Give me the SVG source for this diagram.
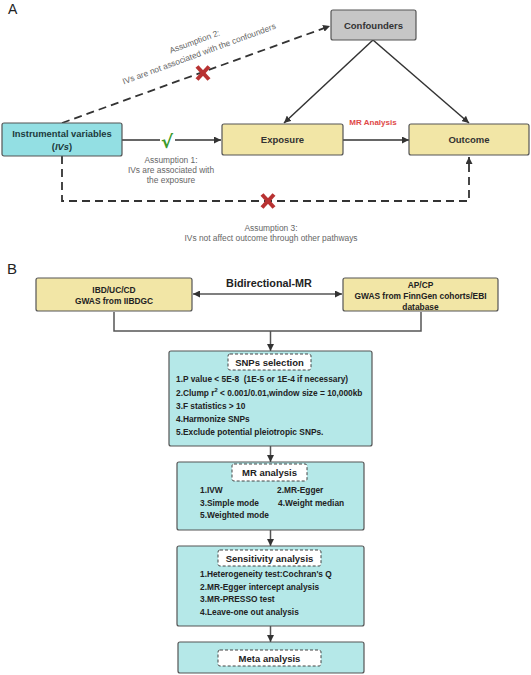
<svg xmlns="http://www.w3.org/2000/svg" width="531" height="675" viewBox="0 0 531 675">
<style>
.box{stroke:#555;stroke-width:1.2}
.teal{fill:#b5e8e8}
.ivf{fill:#93dfe3}
.yel{fill:#f2e6a6}
.gray{fill:#c6c6c6}
.lbl{fill:#fff;stroke:#444;stroke-width:1;stroke-dasharray:3 2}
.t{font-family:"Liberation Sans",Arial,sans-serif;fill:#222}
.b{font-weight:bold}
.s{font-size:8.35px}
.g{font-family:"Liberation Sans",Arial,sans-serif;fill:#666;font-size:8.4px}
.ln{stroke:#333;stroke-width:1.5;fill:none}
.ln2{stroke:#555;stroke-width:1.5;fill:none}
.dash{stroke:#333;stroke-width:1.8;fill:none;stroke-dasharray:8 5}
.x{stroke:#b83232;stroke-width:4;stroke-linecap:butt}
</style>
<defs>
<marker id="ah" viewBox="0 0 10 10" refX="10" refY="5" markerWidth="7" markerHeight="7" markerUnits="userSpaceOnUse" orient="auto-start-reverse">
<path d="M0,0 L10,5 L0,10 z" fill="#333"/>
</marker>
</defs>
<rect width="531" height="675" fill="#fff"/>
<text x="8" y="13.5" class="t" font-size="14" fill="#333">A</text>
<text x="7" y="274" class="t" font-size="15" fill="#333">B</text>

<g id="connectors">
<line class="ln" x1="122" y1="140" x2="160" y2="140"/>
<line class="ln" x1="175" y1="140" x2="221" y2="140" marker-end="url(#ah)"/>
<line class="ln" x1="343" y1="140" x2="409" y2="140" marker-end="url(#ah)"/>
<line class="ln" x1="373" y1="40" x2="284" y2="123" marker-end="url(#ah)"/>
<line class="ln" x1="373" y1="40" x2="469" y2="123" marker-end="url(#ah)"/>
<line class="dash" x1="62" y1="123" x2="330" y2="26" marker-end="url(#ah)"/>
<polyline class="dash" points="62,156 62,201 469,201 469,157" marker-end="url(#ah)"/>
<line class="ln2" x1="193" y1="294" x2="342" y2="294" marker-start="url(#ah)" marker-end="url(#ah)"/>
<polyline class="ln2" points="114,312 114,331 421,331 421,312"/>
<line class="ln2" x1="270.5" y1="331" x2="270.5" y2="351" marker-end="url(#ah)"/>
<line class="ln2" x1="270.5" y1="446" x2="270.5" y2="462" marker-end="url(#ah)"/>
<line class="ln2" x1="270.5" y1="530" x2="270.5" y2="546" marker-end="url(#ah)"/>
<line class="ln2" x1="270.5" y1="626" x2="270.5" y2="642" marker-end="url(#ah)"/>
</g>

<g id="marks">
<text x="167" y="148" font-family="DejaVu Sans,sans-serif" font-size="18" font-weight="bold" fill="#3a9a2a" text-anchor="middle">√</text>
<g transform="translate(203,73)"><line class="x" x1="-6" y1="-6.5" x2="6" y2="6.5"/><line class="x" x1="6" y1="-6.5" x2="-6" y2="6.5"/></g>
<g transform="translate(268,201)"><line class="x" x1="-6" y1="-6.5" x2="6" y2="6.5"/><line class="x" x1="6" y1="-6.5" x2="-6" y2="6.5"/></g>
</g>

<g id="labelsA">
<g transform="translate(197,48) rotate(-20.2)">
<text x="0" y="-4" class="g" text-anchor="middle">Assumption 2:</text>
<text x="0" y="9" class="g" text-anchor="middle">IVs are not associated with the confounders</text>
</g>
<text x="171" y="163" class="g" text-anchor="middle">Assumption 1:</text>
<text x="171" y="173" class="g" text-anchor="middle">IVs are associated with</text>
<text x="171" y="183" class="g" text-anchor="middle">the exposure</text>
<text x="271" y="231" class="g" text-anchor="middle">Assumption 3:</text>
<text x="271" y="241" class="g" text-anchor="middle">IVs not affect outcome through other pathways</text>
<text x="373" y="125" class="t b" font-size="8" text-anchor="middle" style="fill:#e04848">MR Analysis</text>
<text x="269" y="287" class="t b" font-size="10.8" text-anchor="middle">Bidirectional-MR</text>
</g>

<g id="confounders">
<rect class="box gray" x="331" y="10" width="85" height="30" rx="2"/>
<text x="373.5" y="28.5" class="t b" font-size="9.5" text-anchor="middle" style="fill:#333">Confounders</text>
</g>
<g id="iv">
<rect class="box ivf" x="2" y="123" width="120" height="33" rx="2"/>
<text x="62" y="137" class="t b" font-size="9.4" text-anchor="middle" style="fill:#1c3a3c">Instrumental variables</text>
<text x="62" y="149.5" class="t b" font-size="9.4" text-anchor="middle" style="fill:#1c3a3c">(<tspan font-style="italic">IVs</tspan>)</text>
</g>
<g id="exposure">
<rect class="box yel" x="222" y="124" width="121" height="31" rx="2"/>
<text x="282.5" y="143" class="t b" font-size="9.5" text-anchor="middle" style="fill:#333">Exposure</text>
</g>
<g id="outcome">
<rect class="box yel" x="409" y="124" width="120" height="31" rx="2"/>
<text x="469" y="143" class="t b" font-size="9.5" text-anchor="middle" style="fill:#333">Outcome</text>
</g>

<g id="ibd">
<rect class="box yel" x="36" y="278" width="156" height="33" rx="2"/>
<text x="114" y="293" class="t b" font-size="8.4" text-anchor="middle">IBD/UC/CD</text>
<text x="114" y="304" class="t b" font-size="8.4" text-anchor="middle">GWAS from IIBDGC</text>
</g>
<g id="apcp">
<rect class="box yel" x="343" y="278" width="155" height="33" rx="2"/>
<text x="420.5" y="288" class="t b" font-size="8.4" text-anchor="middle">AP/CP</text>
<text x="420.5" y="299" class="t b" font-size="8.4" text-anchor="middle">GWAS from FinnGen cohorts/EBI</text>
<text x="420.5" y="309.5" class="t b" font-size="8.4" text-anchor="middle">database</text>
</g>

<g id="snps">
<rect class="box teal" x="169" y="351" width="203" height="95" rx="2"/>
<rect class="lbl" x="228" y="354" width="83" height="16" rx="2"/>
<text x="269.5" y="365.5" class="t b" font-size="9.5" text-anchor="middle">SNPs selection</text>
<text x="176" y="382" class="t b s">1.P value &lt; 5E-8 &#160;(1E-5 or 1E-4 if necessary)</text>
<text x="176" y="395.5" class="t b s">2.Clump r<tspan font-size="5.8" dy="-3.5">2</tspan><tspan dy="3.5"> &lt; 0.001/0.01,window size = 10,000kb</tspan></text>
<text x="176" y="409" class="t b s">3.F statistics &gt; 10</text>
<text x="176" y="422" class="t b s">4.Harmonize SNPs</text>
<text x="176" y="434.5" class="t b s">5.Exclude potential pleiotropic SNPs.</text>
</g>

<g id="mr">
<rect class="box teal" x="177" y="462" width="187" height="68" rx="2"/>
<rect class="lbl" x="232" y="464" width="75" height="17" rx="2"/>
<text x="269.5" y="476" class="t b" font-size="9.5" text-anchor="middle">MR analysis</text>
<text x="200" y="493" class="t b s">1.IVW</text>
<text x="277" y="493" class="t b s">2.MR-Egger</text>
<text x="200" y="506" class="t b s">3.Simple mode</text>
<text x="278" y="506" class="t b s">4.Weight median</text>
<text x="200" y="518" class="t b s">5.Weighted mode</text>
</g>

<g id="sensitivity">
<rect class="box teal" x="177" y="546" width="187" height="80" rx="2"/>
<rect class="lbl" x="218" y="550" width="103" height="16" rx="2"/>
<text x="269.5" y="561.5" class="t b" font-size="9.5" text-anchor="middle">Sensitivity analysis</text>
<text x="200" y="577" class="t b s">1.Heterogeneity test:Cochran's Q</text>
<text x="200" y="590" class="t b s">2.MR-Egger intercept analysis</text>
<text x="200" y="602" class="t b s">3.MR-PRESSO test</text>
<text x="200" y="615" class="t b s">4.Leave-one out analysis</text>
</g>

<g id="meta">
<rect class="box teal" x="178" y="642" width="186" height="31" rx="2"/>
<rect class="lbl" x="218" y="650" width="103" height="16" rx="2"/>
<text x="269.5" y="661.5" class="t b" font-size="9.5" text-anchor="middle">Meta analysis</text>
</g>
</svg>
